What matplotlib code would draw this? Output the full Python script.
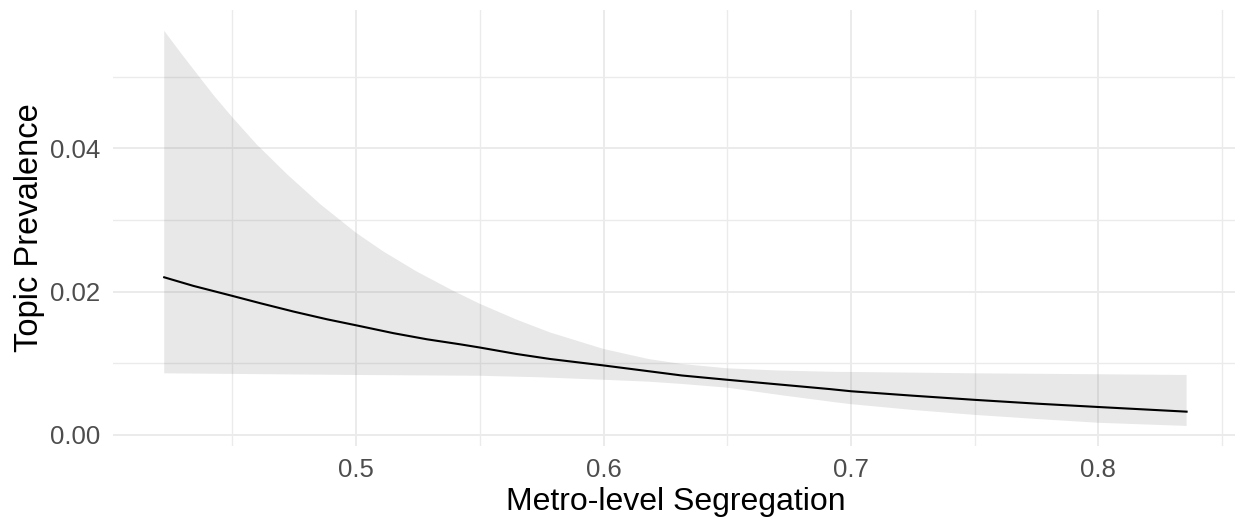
import matplotlib
matplotlib.use("Agg")
import matplotlib.pyplot as plt
from matplotlib.ticker import FixedLocator, FormatStrFormatter

plt.rcParams['font.family'] = ['Liberation Sans', 'DejaVu Sans']

# fitted topic prevalence along metro segregation
fit_x = [0.4224, 0.4342, 0.45, 0.4614, 0.4749, 0.4882, 0.5, 0.5151, 0.5286, 0.542, 0.55,
         0.5648, 0.5784, 0.6, 0.6181, 0.6316, 0.65, 0.6915, 0.7, 0.725, 0.75, 0.775, 0.8, 0.8357]
fit_y = [0.0220, 0.0208, 0.0194, 0.01837, 0.0172, 0.01614, 0.0153, 0.0142, 0.01335, 0.01265, 0.0122,
         0.0113, 0.0106, 0.0097, 0.0089, 0.0083, 0.0077, 0.0064, 0.0061, 0.00548, 0.0049, 0.00437,
         0.0039, 0.00325]

# confidence band, upper and lower edges
upper_x = [0.4224, 0.4289, 0.4363, 0.4424, 0.45, 0.4599, 0.472, 0.4855, 0.5, 0.511, 0.5245,
           0.5393, 0.55, 0.5648, 0.5784, 0.6, 0.6181, 0.6316, 0.65, 0.67, 0.694, 0.7, 0.75,
           0.8, 0.8357]
upper_y = [0.0564, 0.0534, 0.0501, 0.0474, 0.0443, 0.0405, 0.0364, 0.0322, 0.0282, 0.0256, 0.0228,
           0.0201, 0.0183, 0.0161, 0.0143, 0.0120, 0.0106, 0.0099, 0.0093, 0.0090, 0.0088, 0.00879,
           0.0086, 0.00847, 0.00837]
lower_x = [0.4224, 0.5, 0.55, 0.574, 0.6, 0.618, 0.6316, 0.65, 0.672, 0.6939, 0.7, 0.725,
           0.75, 0.775, 0.8, 0.8357]
lower_y = [0.0086, 0.00837, 0.00826, 0.00805, 0.0077, 0.00744, 0.00712, 0.0066, 0.00554, 0.00455,
           0.0043, 0.00349, 0.0028, 0.00223, 0.0017, 0.00126]

x_major = [0.5, 0.6, 0.7, 0.8]
x_minor = [0.45, 0.55, 0.65, 0.75, 0.85]
y_major = [0.00, 0.02, 0.04]
y_minor = [0.01, 0.03, 0.05]

W, H = 1235, 520
fig = plt.figure(figsize=(W / 100, H / 100), dpi=100)
left, right, top, bottom = 113, 1237.8, 10, 445.7
ax = fig.add_axes([left / W, (H - bottom) / H, (right - left) / W, (bottom - top) / H])

band_x = upper_x + lower_x[::-1]
band_y = upper_y + lower_y[::-1]
ax.fill(band_x, band_y, color='#666666', alpha=0.15, linewidth=0)
ax.plot(fit_x, fit_y, color='black', linewidth=1.5)

ax.set_xlim(0.4017, 0.8564)
ax.set_ylim(-0.0015, 0.0593)

ax.xaxis.set_major_locator(FixedLocator(x_major))
ax.xaxis.set_minor_locator(FixedLocator(x_minor))
ax.yaxis.set_major_locator(FixedLocator(y_major))
ax.yaxis.set_minor_locator(FixedLocator(y_minor))
ax.xaxis.set_major_formatter(FormatStrFormatter('%.1f'))
ax.yaxis.set_major_formatter(FormatStrFormatter('%.2f'))

ax.set_axisbelow(True)
ax.grid(which='major', color='#EBEBEB', linewidth=1.4)
ax.grid(which='minor', color='#EBEBEB', linewidth=1.0)
for s in ax.spines.values():
    s.set_visible(False)

ax.tick_params(which='both', length=0)
ax.tick_params(axis='x', labelsize=18.5, labelcolor='#4D4D4D', pad=9)
ax.tick_params(axis='y', labelsize=18.5, labelcolor='#4D4D4D', pad=9.5)

ax.set_xlabel('Metro-level Segregation', fontsize=23, color='black', labelpad=3.5)
ax.set_ylabel('Topic Prevalence', fontsize=23.5, color='black', labelpad=3.5)

fig.savefig('out.png', dpi=100)
